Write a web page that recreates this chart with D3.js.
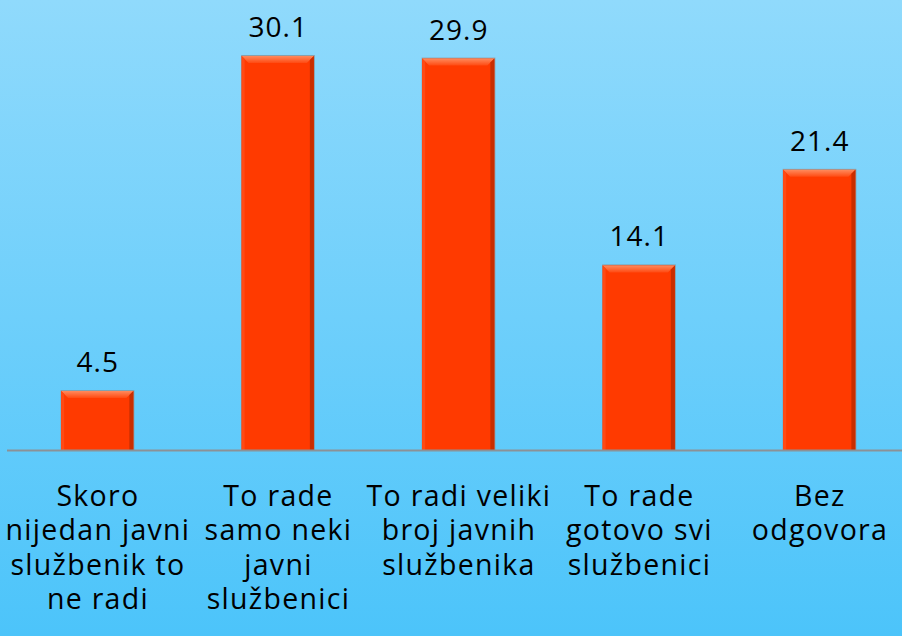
<!DOCTYPE html>
<html>
<head>
<meta charset="utf-8">
<script src="https://cdn.jsdelivr.net/npm/d3@7"></script>
<style>
  html, body { margin: 0; padding: 0; }
  svg { display: block; }
</style>
</head>
<body>
<script>
// bar chart, one series, labels under the bars

var width = 902;
var height = 636;

var categories = [
  ["Skoro", "nijedan javni", "službenik to", "ne radi"],
  ["To rade", "samo neki", "javni", "službenici"],
  ["To radi veliki", "broj javnih", "službenika"],
  ["To rade", "gotovo svi", "službenici"],
  ["Bez", "odgovora"]
];
var values = [4.5, 30.1, 29.9, 14.1, 21.4];
var valueLabels = ["4.5", "30.1", "29.9", "14.1", "21.4"];

var baseY = 450;

var xScale = d3.scaleBand()
               .domain(d3.range(values.length))
               .range([7, 909.5])
               .paddingInner(0.6)
               .paddingOuter(0.3);

var yScale = d3.scaleLinear()
               .domain([0, 35])
               .range([baseY, baseY - 35 * 13.09]);

var svg = d3.select("body")
            .append("svg")
            .attr("width", width)
            .attr("height", height);

var defs = svg.append("defs");

var bg = defs.append("linearGradient")
             .attr("id", "bg")
             .attr("x1", 0).attr("y1", 0)
             .attr("x2", 0).attr("y2", 1);
bg.append("stop").attr("offset", "0%").attr("stop-color", "#90dafc");
bg.append("stop").attr("offset", "100%").attr("stop-color", "#4cc4fa");

var topBevel = defs.append("linearGradient")
             .attr("id", "topBevel")
             .attr("x1", 0).attr("y1", 0)
             .attr("x2", 0).attr("y2", 1);
topBevel.append("stop").attr("offset", "0%").attr("stop-color", "#ff8a5c");
topBevel.append("stop").attr("offset", "100%").attr("stop-color", "#ff4a12");

svg.append("rect")
   .attr("width", width)
   .attr("height", height)
   .attr("fill", "url(#bg)");

var bevel = 7;

var bars = svg.selectAll("g.bar")
   .data(values)
   .enter()
   .append("g")
   .attr("class", "bar");

// soft outline / shadow
bars.append("rect")
   .attr("x", function(d, i){ return xScale(i) - 0.5; })
   .attr("y", function(d){ return yScale(d) - 1; })
   .attr("width", xScale.bandwidth() + 1.5)
   .attr("height", function(d){ return baseY - yScale(d) + 1; })
   .attr("fill", "#8d8a88")
   .attr("opacity", 0.7);

bars.append("rect")
   .attr("x", function(d, i){ return xScale(i); })
   .attr("y", function(d){ return yScale(d); })
   .attr("width", xScale.bandwidth())
   .attr("height", function(d){ return baseY - yScale(d); })
   .attr("fill", "#ff3a00");

// top bevel
bars.append("polygon")
   .attr("points", function(d, i){
     var x0 = xScale(i), x1 = xScale(i) + xScale.bandwidth(), y0 = yScale(d);
     return [[x0, y0], [x1, y0], [x1 - bevel, y0 + bevel], [x0 + bevel, y0 + bevel]].join(" ");
   })
   .attr("fill", "url(#topBevel)");

// right edge
bars.append("polygon")
   .attr("points", function(d, i){
     var x1 = xScale(i) + xScale.bandwidth(), y0 = yScale(d);
     return [[x1, y0], [x1, baseY], [x1 - 4, baseY], [x1 - 4, y0 + 4]].join(" ");
   })
   .attr("fill", "#c92e00");

// left edge
bars.append("polygon")
   .attr("points", function(d, i){
     var x0 = xScale(i), y0 = yScale(d);
     return [[x0, y0], [x0 + 3, y0 + 3], [x0 + 3, baseY], [x0, baseY]].join(" ");
   })
   .attr("fill", "#ff4a14");

// axis line
svg.append("line")
   .attr("x1", 7)
   .attr("x2", width)
   .attr("y1", baseY + 0.5)
   .attr("y2", baseY + 0.5)
   .attr("stroke", "#8c9196")
   .attr("stroke-width", 2);

svg.selectAll("text.value")
   .data(values)
   .enter()
   .append("text")
   .attr("class", "value")
   .text(function(d, i){ return valueLabels[i]; })
   .attr("x", function(d, i){ return xScale(i) + xScale.bandwidth() / 2 + 0.5; })
   .attr("y", function(d){ return yScale(d) - 19; })
   .attr("font-family", "'Open Sans', sans-serif")
   .attr("font-size", "28px")
   .attr("letter-spacing", "1px")
   .attr("fill", "#000")
   .attr("text-anchor", "middle");

var catText = svg.selectAll("text.cat")
   .data(categories)
   .enter()
   .append("text")
   .attr("class", "cat")
   .attr("x", function(d, i){ return xScale(i) + xScale.bandwidth() / 2 + 0.7; })
   .attr("y", 506)
   .attr("font-family", "'Open Sans', sans-serif")
   .attr("font-size", "28.5px")
   .attr("letter-spacing", "1.3px")
   .attr("fill", "#000")
   .attr("text-anchor", "middle");

catText.selectAll("tspan")
   .data(function(d){ return d; })
   .enter()
   .append("tspan")
   .attr("x", function(){ return d3.select(this.parentNode).attr("x"); })
   .attr("dy", function(d, i){ return i === 0 ? 0 : 34.3; })
   .text(function(d){ return d; });
</script>
</body>
</html>
